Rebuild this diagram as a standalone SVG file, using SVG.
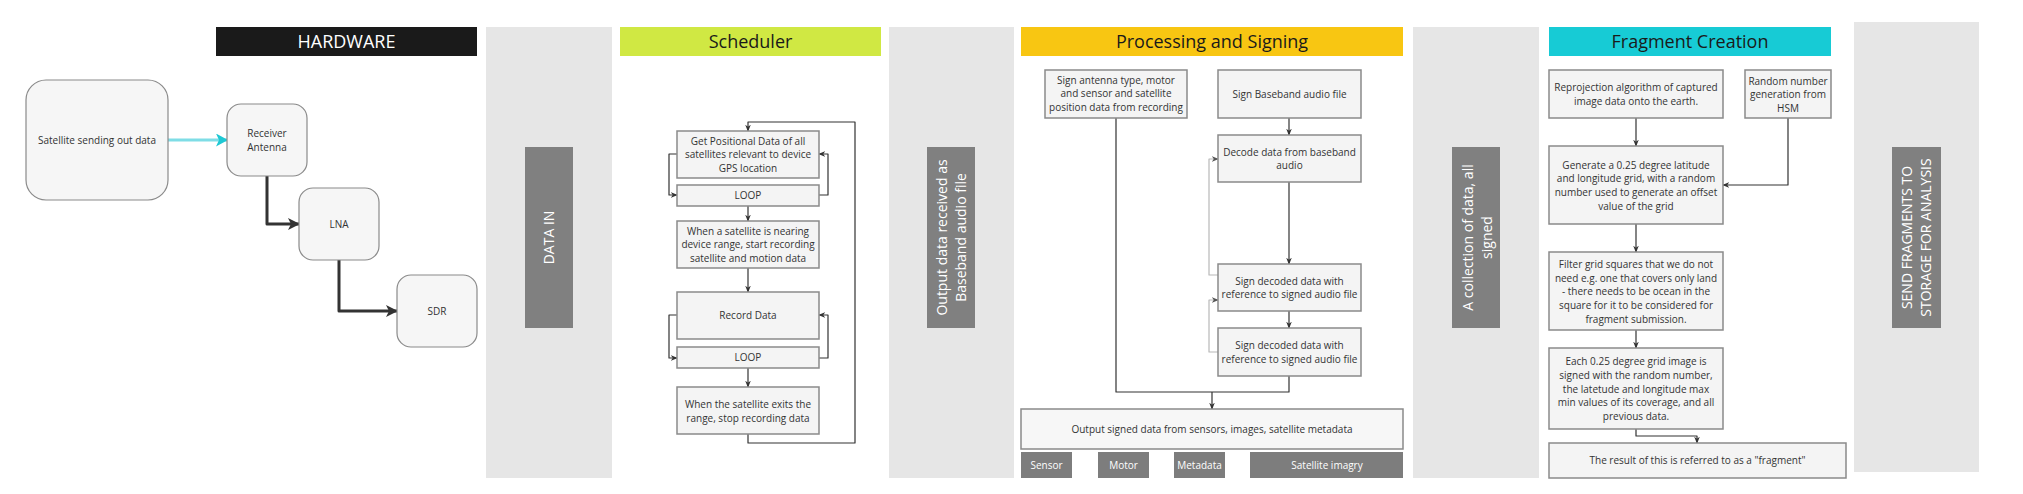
<svg xmlns="http://www.w3.org/2000/svg" width="2023" height="494" viewBox="0 0 2023 494">
<defs>
<style>
.col{fill:#e6e6e6}
.dark{fill:#808080}
.vt{font-family:"Open Sans","Liberation Sans",sans-serif;font-size:14px;fill:#ffffff;text-anchor:middle}
.hdr{font-family:"Open Sans","Liberation Sans",sans-serif;font-size:18px;text-anchor:middle}
.box{fill:#f4f4f4;stroke:#8a8a8a;stroke-width:1.5}
.hw{fill:#f6f6f6;stroke:#8a8a8a;stroke-width:1.2}
.t{font-family:"Open Sans","Liberation Sans",sans-serif;font-size:10px;fill:#333333;text-anchor:middle}
.tw{font-family:"Open Sans","Liberation Sans",sans-serif;font-size:10px;fill:#ffffff;text-anchor:middle}
.tag{fill:#7d7d7d}
.c{fill:none;stroke:#333333;stroke-width:1.2;stroke-linejoin:round}
.cg{fill:none;stroke:#b8b8b8;stroke-width:1.2;stroke-linejoin:round}
.thick{fill:none;stroke:#333333;stroke-width:3;stroke-linejoin:round}
</style>
<marker id="ah" viewBox="0 0 10 10" refX="9" refY="5" markerWidth="7" markerHeight="7" markerUnits="userSpaceOnUse" orient="auto"><path d="M0,1 L10,5 L0,9 L3,5 z" fill="#333333"/></marker>
<marker id="ahg" viewBox="0 0 10 10" refX="9" refY="5" markerWidth="7" markerHeight="7" markerUnits="userSpaceOnUse" orient="auto"><path d="M0,1 L10,5 L0,9 L3,5 z" fill="#555555"/></marker>
<marker id="ahb" viewBox="0 0 12 12" refX="11" refY="6" markerWidth="12" markerHeight="12" markerUnits="userSpaceOnUse" orient="auto"><path d="M0,0 L12,6 L0,12 L3,6 z" fill="#333333"/></marker>
<marker id="ahc" viewBox="0 0 12 13" refX="11" refY="6.5" markerWidth="12" markerHeight="13" markerUnits="userSpaceOnUse" orient="auto"><path d="M0,0 L12,6.5 L0,13 L3,6.5 z" fill="#1ec8d4"/></marker>
</defs>
<rect width="2023" height="494" fill="#ffffff"/>

<!-- columns -->
<g id="col-data-in">
<rect class="col" x="486" y="27" width="126" height="451"/>
<rect class="dark" x="525" y="147" width="48" height="181"/>
<text class="vt" transform="translate(549,237.5) rotate(-90)" y="5">DATA IN</text>
</g>
<g id="col-output">
<rect class="col" x="889" y="27" width="125" height="451"/>
<rect class="dark" x="927" y="147" width="48" height="181"/>
<text class="vt" transform="translate(951.5,237.5) rotate(-90)"><tspan x="0" y="-4.5">Output data received as</tspan><tspan x="0" y="14.5">Baseband audio file</tspan></text>
</g>
<g id="col-collection">
<rect class="col" x="1413" y="27" width="126" height="451"/>
<rect class="dark" x="1452" y="147" width="48" height="181"/>
<text class="vt" transform="translate(1477,237.5) rotate(-90)"><tspan x="0" y="-4.5">A collection of data, all</tspan><tspan x="0" y="14.5">signed</tspan></text>
</g>
<g id="col-send">
<rect class="col" x="1854" y="22" width="125" height="450"/>
<rect class="dark" x="1892" y="147" width="49" height="181"/>
<text class="vt" transform="translate(1916.5,237.5) rotate(-90)"><tspan x="0" y="-4.5">SEND FRAGMENTS TO</tspan><tspan x="0" y="14.5">STORAGE FOR ANALYSIS</tspan></text>
</g>

<!-- headers -->
<g id="hdr-hardware"><rect x="216" y="27" width="261" height="29" fill="#1a1a1a"/><text class="hdr" x="346.5" y="48" fill="#ffffff">HARDWARE</text></g>
<g id="hdr-scheduler"><rect x="620" y="27" width="261" height="29" fill="#d0e843"/><text class="hdr" x="750.5" y="48" fill="#1a1a1a">Scheduler</text></g>
<g id="hdr-processing"><rect x="1021" y="27" width="382" height="29" fill="#f8c612"/><text class="hdr" x="1212" y="48" fill="#1a1a1a">Processing and Signing</text></g>
<g id="hdr-fragment"><rect x="1549" y="27" width="282" height="29" fill="#17cbd5"/><text class="hdr" x="1690" y="48" fill="#1a1a1a">Fragment Creation</text></g>

<!-- connectors -->
<g id="connectors">
<path d="M168,140 H227" stroke="#7fdde6" stroke-width="3" fill="none" marker-end="url(#ahc)"/>
<path class="thick" d="M267,176 V224 H299" marker-end="url(#ahb)"/>
<path class="thick" d="M339,260 V311 H397" marker-end="url(#ahb)"/>

<path class="c" d="M677,154 H669 V195 H677" marker-end="url(#ah)"/>
<path class="c" d="M819,195 H828 V154 H819" marker-end="url(#ah)"/>
<path class="c" d="M748,206 V221" marker-end="url(#ah)"/>
<path class="c" d="M748,268 V292" marker-end="url(#ah)"/>
<path class="c" d="M677,315 H669 V358 H677" marker-end="url(#ah)"/>
<path class="c" d="M819,358 H828 V315 H819" marker-end="url(#ah)"/>
<path class="c" d="M748,368 V387" marker-end="url(#ah)"/>
<path class="c" d="M748,434 V443 H855 V122 H748 V131" marker-end="url(#ah)"/>

<path class="c" d="M1116,118 V392 H1289 V376"/>
<path class="c" d="M1212,392 V409" marker-end="url(#ah)"/>
<path class="c" d="M1289,118 V135" marker-end="url(#ah)"/>
<path class="c" d="M1289,182 V264" marker-end="url(#ah)"/>
<path class="c" d="M1289,311 V328" marker-end="url(#ah)"/>
<path class="cg" d="M1218,275 H1209 V159 H1218" marker-end="url(#ahg)"/>
<path class="cg" d="M1218,352 H1209 V300 H1218" marker-end="url(#ahg)"/>

<path class="c" d="M1636,118 V146" marker-end="url(#ah)"/>
<path class="c" d="M1788,118 V185 H1723" marker-end="url(#ah)"/>
<path class="c" d="M1636,224 V252" marker-end="url(#ah)"/>
<path class="c" d="M1636,330 V348" marker-end="url(#ah)"/>
<path class="c" d="M1636,429 V436 H1697 V443" marker-end="url(#ah)"/>
</g>

<!-- hardware nodes -->
<g id="n-satellite"><rect class="hw" x="26" y="80" width="142" height="120" rx="20"/><text class="t" x="97" y="143.5">Satellite sending out data</text></g>
<g id="n-receiver"><rect class="hw" x="227" y="104" width="80" height="72" rx="14"/><text class="t" x="267"><tspan x="267" y="136.5">Receiver</tspan><tspan x="267" y="150.5">Antenna</tspan></text></g>
<g id="n-lna"><rect class="hw" x="299" y="188" width="80" height="72" rx="14"/><text class="t" x="339" y="227.5">LNA</text></g>
<g id="n-sdr"><rect class="hw" x="397" y="275" width="80" height="72" rx="14"/><text class="t" x="437" y="314.5">SDR</text></g>

<!-- scheduler nodes -->
<g id="n-getpos"><rect class="box" x="677" y="131" width="142" height="47"/><text class="t"><tspan x="748" y="144.5">Get Positional Data of all</tspan><tspan x="748" y="158">satellites relevant to device</tspan><tspan x="748" y="171.5">GPS location</tspan></text></g>
<g id="n-loop1"><rect class="box" x="677" y="185" width="142" height="21"/><text class="t" x="748" y="199">LOOP</text></g>
<g id="n-nearing"><rect class="box" x="677" y="221" width="142" height="47"/><text class="t"><tspan x="748" y="234.5">When a satellite is nearing</tspan><tspan x="748" y="248">device range, start recording</tspan><tspan x="748" y="261.5">satellite and motion data</tspan></text></g>
<g id="n-record"><rect class="box" x="677" y="292" width="142" height="47"/><text class="t" x="748" y="318.5">Record Data</text></g>
<g id="n-loop2"><rect class="box" x="677" y="347" width="142" height="21"/><text class="t" x="748" y="361">LOOP</text></g>
<g id="n-exits"><rect class="box" x="677" y="387" width="142" height="47"/><text class="t"><tspan x="748" y="407.5">When the satellite exits the</tspan><tspan x="748" y="421.5">range, stop recording data</tspan></text></g>

<!-- processing nodes -->
<g id="n-signantenna"><rect class="box" x="1045" y="70" width="142" height="48"/><text class="t"><tspan x="1116" y="83.5">Sign antenna type, motor</tspan><tspan x="1116" y="97">and sensor and satellite</tspan><tspan x="1116" y="110.5">position data from recording</tspan></text></g>
<g id="n-signbaseband"><rect class="box" x="1218" y="70" width="143" height="48"/><text class="t" x="1289.5" y="97.5">Sign Baseband audio file</text></g>
<g id="n-decode"><rect class="box" x="1218" y="135" width="143" height="47"/><text class="t"><tspan x="1289.5" y="155.5">Decode data from baseband</tspan><tspan x="1289.5" y="169">audio</tspan></text></g>
<g id="n-signdecoded1"><rect class="box" x="1218" y="264" width="143" height="47"/><text class="t"><tspan x="1289.5" y="284.5">Sign decoded data with</tspan><tspan x="1289.5" y="298">reference to signed audio file</tspan></text></g>
<g id="n-signdecoded2"><rect class="box" x="1218" y="328" width="143" height="48"/><text class="t"><tspan x="1289.5" y="348.5">Sign decoded data with</tspan><tspan x="1289.5" y="362.5">reference to signed audio file</tspan></text></g>
<g id="n-output"><rect class="box" x="1021" y="409" width="382" height="40" style="fill:#f7f7f7"/><text class="t" x="1212" y="432.5">Output signed data from sensors, images, satellite metadata</text></g>
<g id="n-sensor"><rect class="tag" x="1021" y="452" width="51" height="26"/><text class="tw" x="1046.5" y="468.5">Sensor</text></g>
<g id="n-motor"><rect class="tag" x="1098" y="452" width="51" height="26"/><text class="tw" x="1123.5" y="468.5">Motor</text></g>
<g id="n-metadata"><rect class="tag" x="1174" y="452" width="51" height="26"/><text class="tw" x="1199.5" y="468.5">Metadata</text></g>
<g id="n-imagery"><rect class="tag" x="1250" y="452" width="153" height="26"/><text class="tw" x="1327" y="468.5">Satellite imagry</text></g>

<!-- fragment nodes -->
<g id="n-reproj"><rect class="box" x="1549" y="70" width="174" height="48"/><text class="t"><tspan x="1636" y="90.5">Reprojection algorithm of captured</tspan><tspan x="1636" y="104.5">image data onto the earth.</tspan></text></g>
<g id="n-random"><rect class="box" x="1745" y="70" width="86" height="48"/><text class="t"><tspan x="1788" y="84.5">Random number</tspan><tspan x="1788" y="97.5">generation from</tspan><tspan x="1788" y="111.5">HSM</tspan></text></g>
<g id="n-generate"><rect class="box" x="1549" y="146" width="174" height="78"/><text class="t"><tspan x="1636" y="168.5">Generate a 0.25 degree latitude</tspan><tspan x="1636" y="181.5">and longitude grid, with a random</tspan><tspan x="1636" y="195.5">number used  to generate an offset</tspan><tspan x="1636" y="209.5">value of the grid</tspan></text></g>
<g id="n-filter"><rect class="box" x="1549" y="252" width="174" height="78"/><text class="t"><tspan x="1636" y="267.5">Filter grid squares that we do not</tspan><tspan x="1636" y="281.5">need e.g. one that covers only land</tspan><tspan x="1636" y="294.5">- there needs to be ocean in the</tspan><tspan x="1636" y="308.5">square for it to be considered for</tspan><tspan x="1636" y="322.5">fragment submission.</tspan></text></g>
<g id="n-each"><rect class="box" x="1549" y="348" width="174" height="81"/><text class="t"><tspan x="1636" y="364.5">Each 0.25 degree grid image is</tspan><tspan x="1636" y="378.5">signed with the random number,</tspan><tspan x="1636" y="392.5">the latetude and longitude max</tspan><tspan x="1636" y="405.5">min values of its coverage, and all</tspan><tspan x="1636" y="419.5">previous data.</tspan></text></g>
<g id="n-result"><rect class="box" x="1549" y="443" width="297" height="35"/><text class="t" x="1697.5" y="464">The result of this is referred to as a "fragment"</text></g>
</svg>
